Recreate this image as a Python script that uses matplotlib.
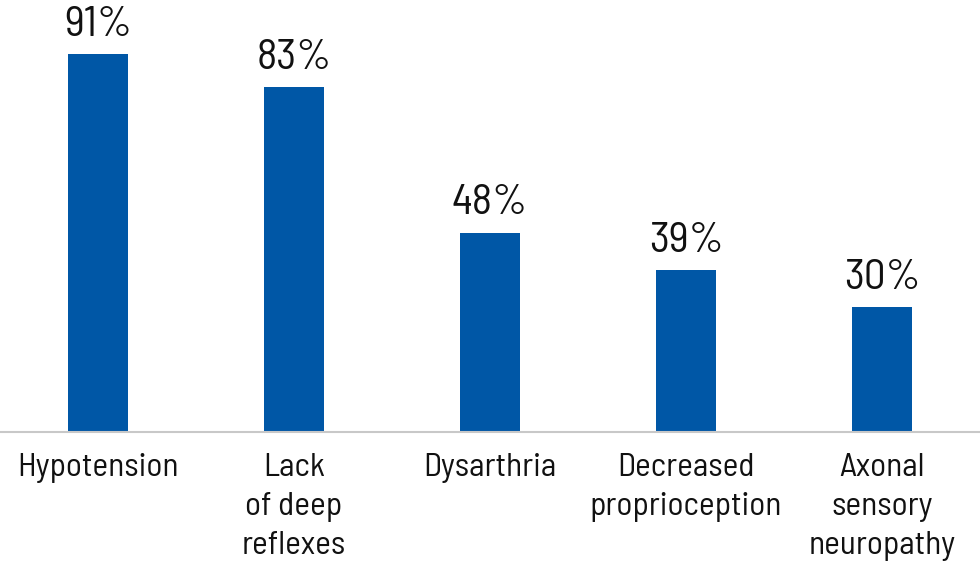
import matplotlib.pyplot as plt

plt.rcParams['font.family'] = ['Barlow Semi Condensed', 'DejaVu Sans']

# Dati
categorie = ['Hypotension', 'Lack\nof deep\nreflexes', 'Dysarthria',
             'Decreased\nproprioception', 'Axonal\nsensory\nneuropathy']
valori = [91, 83, 48, 39, 30]

fig = plt.figure(figsize=(9.8, 5.69), dpi=100)
ax = fig.add_axes([0, 0.2408, 1, 0.730])

x = range(len(categorie))
ax.bar(x, valori, width=0.306, color='#0057A6')

for i, v in zip(x, valori):
    ax.text(i, v + 4.4, f'{v}%', ha='center', va='baseline', fontsize=31, color='#111111')

ax.set_xlim(-0.5, len(categorie) - 0.5)
ax.set_ylim(0, 100)
ax.set_xticks(list(x))
ax.set_xticklabels(categorie, fontsize=24, linespacing=1.4, color='#111111')
ax.tick_params(axis='x', length=0, pad=15)
ax.set_yticks([])

for lato in ['top', 'right', 'left']:
    ax.spines[lato].set_visible(False)
ax.spines['bottom'].set_color('#c8c8c8')
ax.spines['bottom'].set_linewidth(1.5)

fig.savefig('out.png', dpi=100)
